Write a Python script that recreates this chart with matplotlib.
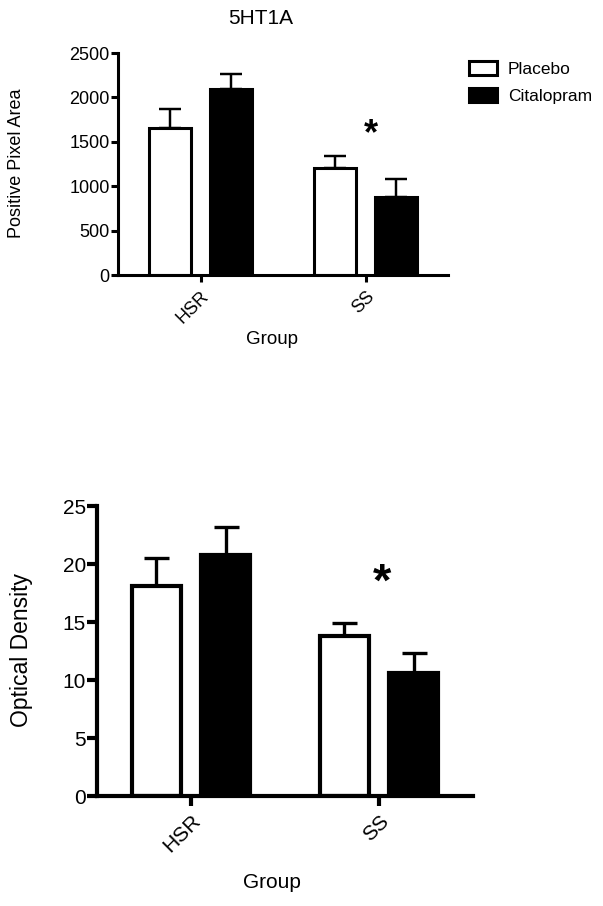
import matplotlib
matplotlib.use("Agg")
import matplotlib.pyplot as plt
import numpy as np

plt.rcParams["font.family"] = ["Liberation Sans", "DejaVu Sans"]

# Data
groups = ["HSR", "SS"]
treatments = ["Placebo", "Citalopram"]

area_placebo = [1660, 1210]
area_placebo_err = [205, 130]
area_citalopram = [2090, 875]
area_citalopram_err = [175, 210]

od_placebo = [18.1, 13.8]
od_placebo_err = [2.4, 1.1]
od_citalopram = [20.8, 10.6]
od_citalopram_err = [2.4, 1.7]

fig = plt.figure(figsize=(6.03, 9.06), dpi=100)

x = np.arange(len(groups))
offset = 0.185
width = 0.26


def draw_panel(ax, pl, pl_err, ci, ci_err, lw, cap, fs, tick_len):
    b1 = ax.bar(x - offset, pl, width, color="white", edgecolor="black",
                linewidth=lw, zorder=2)
    b2 = ax.bar(x + offset, ci, width, color="black", edgecolor="black",
                linewidth=lw, zorder=2)
    zeros = [0] * len(x)
    ax.errorbar(x - offset, pl, yerr=[zeros, pl_err], fmt="none", ecolor="black",
                elinewidth=lw * 0.8, capsize=cap, capthick=lw * 0.8, zorder=1)
    ax.errorbar(x + offset, ci, yerr=[zeros, ci_err], fmt="none", ecolor="black",
                elinewidth=lw * 0.8, capsize=cap, capthick=lw * 0.8, zorder=1)
    ax.set_xlim(-0.5, 1.5)
    ax.set_xticks(x)
    ax.set_xticklabels(groups, rotation=45, ha="right", rotation_mode="anchor",
                       fontsize=fs)
    for s in ["top", "right"]:
        ax.spines[s].set_visible(False)
    for s in ["left", "bottom"]:
        ax.spines[s].set_linewidth(lw)
    ax.tick_params(axis="both", width=lw, length=tick_len, labelsize=fs)
    ax.tick_params(axis="y", pad=1)
    ax.tick_params(axis="x", pad=4)
    return b1, b2


# top panel
ax1 = fig.add_axes([118 / 603, 1 - 275 / 906, 330 / 603, 222 / 906])
h1, h2 = draw_panel(ax1, area_placebo, area_placebo_err, area_citalopram,
                    area_citalopram_err, 2.2, 8, 13, 5)
ax1.set_ylim(0, 2500)
ax1.set_yticks([0, 500, 1000, 1500, 2000, 2500])
ax1.text(1.03, 1580, "*", fontsize=26, fontweight="bold", ha="center", va="center")
fig.text(17 / 603, 1 - 163 / 906, "Positive Pixel Area", fontsize=13,
         rotation=90, ha="center", va="center")
fig.text(261 / 603, 1 - 18 / 906, "5HT1A", fontsize=15, ha="center", va="center")
fig.text(272 / 603, 1 - 340 / 906, "Group", fontsize=13.5, ha="center", va="center")

fig.legend([h1, h2], treatments, loc="upper left",
           bbox_to_anchor=(469 / 603, 1 - 61 / 906), frameon=False,
           borderpad=0, borderaxespad=0,
           fontsize=12.5, handlelength=1.6, handleheight=0.85, handletextpad=0.65,
           labelspacing=0.62)

# bottom panel
ax2 = fig.add_axes([97 / 603, 1 - 796 / 906, 376 / 603, 290 / 906])
draw_panel(ax2, od_placebo, od_placebo_err, od_citalopram, od_citalopram_err,
           3.0, 9, 15, 7)
ax2.set_ylim(0, 25)
ax2.set_yticks([0, 5, 10, 15, 20, 25])
ax2.text(1.016, 18.3, "*", fontsize=34, fontweight="bold", ha="center", va="center")
fig.text(22 / 603, 1 - 650 / 906, "Optical Density", fontsize=16.5,
         rotation=90, ha="center", va="center")
fig.text(272 / 603, 1 - 883 / 906, "Group", fontsize=15, ha="center", va="center")

fig.savefig("out.png", dpi=100)
